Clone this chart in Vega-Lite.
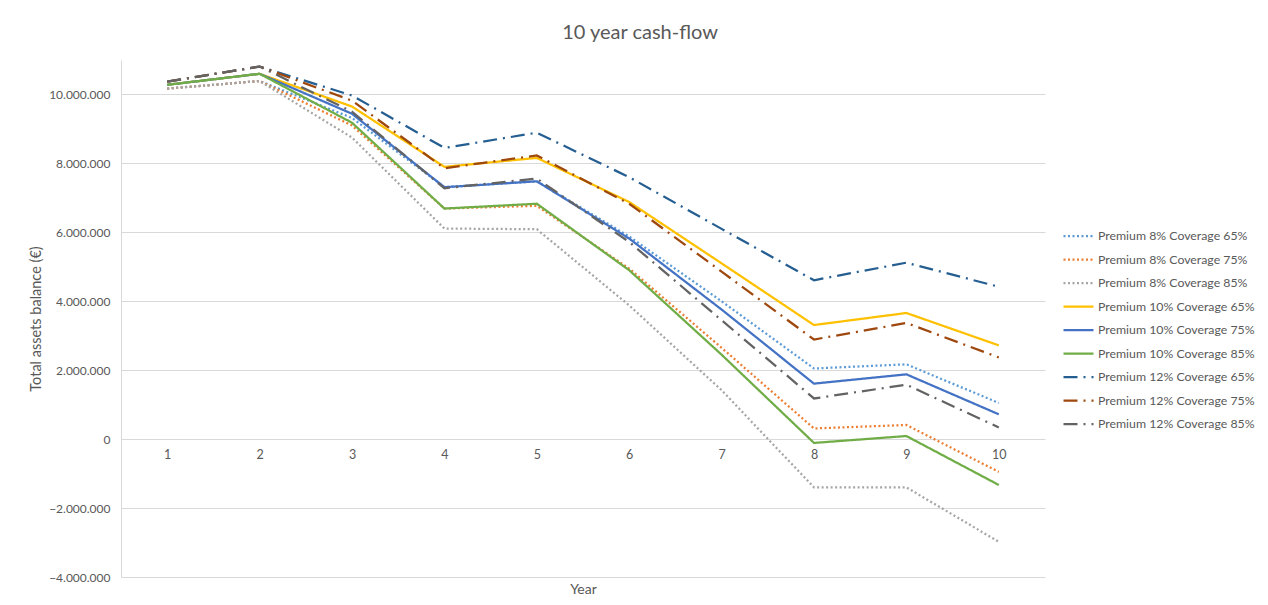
{
  "$schema": "https://vega.github.io/schema/vega-lite/v6.json",
  "width": 924,
  "height": 517,
  "autosize": {"type": "none"},
  "padding": {"left": 121, "top": 60, "right": 223, "bottom": 28},
  "background": "white",
  "config": {
    "font": "Lato",
    "view": {"stroke": null},
    "locale": {"number": {"decimal": ",", "thousands": ".", "grouping": [3], "currency": ["", " €"]}}
  },
  "title": {
    "text": "10 year cash-flow",
    "fontSize": 20,
    "fontWeight": "normal",
    "color": "#595959",
    "anchor": "middle",
    "frame": "group",
    "dx": 57,
    "offset": 17
  },
  "data": {
    "values": [
      {"year": 1, "series": "Premium 8% Coverage 65%", "value": 10170000},
      {"year": 2, "series": "Premium 8% Coverage 65%", "value": 10390000},
      {"year": 3, "series": "Premium 8% Coverage 65%", "value": 9320000},
      {"year": 4, "series": "Premium 8% Coverage 65%", "value": 7310000},
      {"year": 5, "series": "Premium 8% Coverage 65%", "value": 7480000},
      {"year": 6, "series": "Premium 8% Coverage 65%", "value": 5880000},
      {"year": 7, "series": "Premium 8% Coverage 65%", "value": 4000000},
      {"year": 8, "series": "Premium 8% Coverage 65%", "value": 2050000},
      {"year": 9, "series": "Premium 8% Coverage 65%", "value": 2170000},
      {"year": 10, "series": "Premium 8% Coverage 65%", "value": 1050000},

      {"year": 1, "series": "Premium 8% Coverage 75%", "value": 10170000},
      {"year": 2, "series": "Premium 8% Coverage 75%", "value": 10390000},
      {"year": 3, "series": "Premium 8% Coverage 75%", "value": 9100000},
      {"year": 4, "series": "Premium 8% Coverage 75%", "value": 6690000},
      {"year": 5, "series": "Premium 8% Coverage 75%", "value": 6770000},
      {"year": 6, "series": "Premium 8% Coverage 75%", "value": 4950000},
      {"year": 7, "series": "Premium 8% Coverage 75%", "value": 2650000},
      {"year": 8, "series": "Premium 8% Coverage 75%", "value": 310000},
      {"year": 9, "series": "Premium 8% Coverage 75%", "value": 410000},
      {"year": 10, "series": "Premium 8% Coverage 75%", "value": -950000},

      {"year": 1, "series": "Premium 8% Coverage 85%", "value": 10170000},
      {"year": 2, "series": "Premium 8% Coverage 85%", "value": 10390000},
      {"year": 3, "series": "Premium 8% Coverage 85%", "value": 8750000},
      {"year": 4, "series": "Premium 8% Coverage 85%", "value": 6110000},
      {"year": 5, "series": "Premium 8% Coverage 85%", "value": 6090000},
      {"year": 6, "series": "Premium 8% Coverage 85%", "value": 3880000},
      {"year": 7, "series": "Premium 8% Coverage 85%", "value": 1420000},
      {"year": 8, "series": "Premium 8% Coverage 85%", "value": -1400000},
      {"year": 9, "series": "Premium 8% Coverage 85%", "value": -1400000},
      {"year": 10, "series": "Premium 8% Coverage 85%", "value": -2980000},

      {"year": 1, "series": "Premium 10% Coverage 65%", "value": 10280000},
      {"year": 2, "series": "Premium 10% Coverage 65%", "value": 10600000},
      {"year": 3, "series": "Premium 10% Coverage 65%", "value": 9650000},
      {"year": 4, "series": "Premium 10% Coverage 65%", "value": 7900000},
      {"year": 5, "series": "Premium 10% Coverage 65%", "value": 8160000},
      {"year": 6, "series": "Premium 10% Coverage 65%", "value": 6880000},
      {"year": 7, "series": "Premium 10% Coverage 65%", "value": 5100000},
      {"year": 8, "series": "Premium 10% Coverage 65%", "value": 3310000},
      {"year": 9, "series": "Premium 10% Coverage 65%", "value": 3660000},
      {"year": 10, "series": "Premium 10% Coverage 65%", "value": 2720000},

      {"year": 1, "series": "Premium 10% Coverage 75%", "value": 10280000},
      {"year": 2, "series": "Premium 10% Coverage 75%", "value": 10600000},
      {"year": 3, "series": "Premium 10% Coverage 75%", "value": 9440000},
      {"year": 4, "series": "Premium 10% Coverage 75%", "value": 7310000},
      {"year": 5, "series": "Premium 10% Coverage 75%", "value": 7480000},
      {"year": 6, "series": "Premium 10% Coverage 75%", "value": 5820000},
      {"year": 7, "series": "Premium 10% Coverage 75%", "value": 3760000},
      {"year": 8, "series": "Premium 10% Coverage 75%", "value": 1610000},
      {"year": 9, "series": "Premium 10% Coverage 75%", "value": 1880000},
      {"year": 10, "series": "Premium 10% Coverage 75%", "value": 720000},

      {"year": 1, "series": "Premium 10% Coverage 85%", "value": 10280000},
      {"year": 2, "series": "Premium 10% Coverage 85%", "value": 10600000},
      {"year": 3, "series": "Premium 10% Coverage 85%", "value": 9180000},
      {"year": 4, "series": "Premium 10% Coverage 85%", "value": 6690000},
      {"year": 5, "series": "Premium 10% Coverage 85%", "value": 6830000},
      {"year": 6, "series": "Premium 10% Coverage 85%", "value": 4900000},
      {"year": 7, "series": "Premium 10% Coverage 85%", "value": 2450000},
      {"year": 8, "series": "Premium 10% Coverage 85%", "value": -110000},
      {"year": 9, "series": "Premium 10% Coverage 85%", "value": 90000},
      {"year": 10, "series": "Premium 10% Coverage 85%", "value": -1330000},

      {"year": 1, "series": "Premium 12% Coverage 65%", "value": 10370000},
      {"year": 2, "series": "Premium 12% Coverage 65%", "value": 10810000},
      {"year": 3, "series": "Premium 12% Coverage 65%", "value": 9970000},
      {"year": 4, "series": "Premium 12% Coverage 65%", "value": 8450000},
      {"year": 5, "series": "Premium 12% Coverage 65%", "value": 8890000},
      {"year": 6, "series": "Premium 12% Coverage 65%", "value": 7600000},
      {"year": 7, "series": "Premium 12% Coverage 65%", "value": 6100000},
      {"year": 8, "series": "Premium 12% Coverage 65%", "value": 4610000},
      {"year": 9, "series": "Premium 12% Coverage 65%", "value": 5120000},
      {"year": 10, "series": "Premium 12% Coverage 65%", "value": 4420000},

      {"year": 1, "series": "Premium 12% Coverage 75%", "value": 10370000},
      {"year": 2, "series": "Premium 12% Coverage 75%", "value": 10810000},
      {"year": 3, "series": "Premium 12% Coverage 75%", "value": 9820000},
      {"year": 4, "series": "Premium 12% Coverage 75%", "value": 7860000},
      {"year": 5, "series": "Premium 12% Coverage 75%", "value": 8230000},
      {"year": 6, "series": "Premium 12% Coverage 75%", "value": 6830000},
      {"year": 7, "series": "Premium 12% Coverage 75%", "value": 4860000},
      {"year": 8, "series": "Premium 12% Coverage 75%", "value": 2890000},
      {"year": 9, "series": "Premium 12% Coverage 75%", "value": 3370000},
      {"year": 10, "series": "Premium 12% Coverage 75%", "value": 2370000},

      {"year": 1, "series": "Premium 12% Coverage 85%", "value": 10370000},
      {"year": 2, "series": "Premium 12% Coverage 85%", "value": 10810000},
      {"year": 3, "series": "Premium 12% Coverage 85%", "value": 9500000},
      {"year": 4, "series": "Premium 12% Coverage 85%", "value": 7280000},
      {"year": 5, "series": "Premium 12% Coverage 85%", "value": 7560000},
      {"year": 6, "series": "Premium 12% Coverage 85%", "value": 5720000},
      {"year": 7, "series": "Premium 12% Coverage 85%", "value": 3450000},
      {"year": 8, "series": "Premium 12% Coverage 85%", "value": 1180000},
      {"year": 9, "series": "Premium 12% Coverage 85%", "value": 1580000},
      {"year": 10, "series": "Premium 12% Coverage 85%", "value": 340000}
    ]
  },
  "mark": {"type": "line", "strokeWidth": 2.25, "interpolate": "linear"},
  "encoding": {
    "x": {
      "field": "year",
      "type": "ordinal",
      "scale": {"type": "point", "padding": 0.5},
      "axis": {
        "title": "Year",
        "labelAngle": 0,
        "offset": -138,
        "domain": false,
        "ticks": false,
        "grid": false,
        "labelPadding": 9,
        "labelFontSize": 12.5,
        "labelColor": "#595959",
        "titleFontSize": 14,
        "titleFontWeight": "normal",
        "titleColor": "#595959",
        "titleY": 150,
        "titleBaseline": "middle"
      }
    },
    "y": {
      "field": "value",
      "type": "quantitative",
      "scale": {"domain": [-4000000, 11000000], "nice": false, "zero": false},
      "axis": {
        "title": "Total assets balance (€)",
        "values": [-4000000, -2000000, 0, 2000000, 4000000, 6000000, 8000000, 10000000],
        "format": ",d",
        "domain": true,
        "domainColor": "#D9D9D9",
        "ticks": false,
        "grid": true,
        "gridColor": "#D9D9D9",
        "gridWidth": 1,
        "labelPadding": 11,
        "labelFontSize": 12,
        "labelColor": "#595959",
        "titleFontSize": 14.5,
        "titleFontWeight": "normal",
        "titleColor": "#595959",
        "titlePadding": 5
      }
    },
    "color": {
      "field": "series",
      "type": "nominal",
      "scale": {
        "domain": [
          "Premium 8% Coverage 65%", "Premium 8% Coverage 75%", "Premium 8% Coverage 85%",
          "Premium 10% Coverage 65%", "Premium 10% Coverage 75%", "Premium 10% Coverage 85%",
          "Premium 12% Coverage 65%", "Premium 12% Coverage 75%", "Premium 12% Coverage 85%"
        ],
        "range": ["#5B9BD5", "#ED7D31", "#A5A5A5", "#FFC000", "#4472C4", "#70AD47", "#255E91", "#9E480E", "#636363"]
      },
      "legend": {
        "title": null,
        "orient": "none",
        "legendX": 941,
        "legendY": 166,
        "padding": 0,
        "symbolType": "stroke",
        "symbolSize": 900,
        "symbolStrokeWidth": 2.25,
        "clipHeight": 20,
        "rowPadding": 3.5,
        "labelOffset": 3,
        "labelFontSize": 12.3,
        "labelColor": "#595959",
        "labelLimit": 300
      }
    },
    "strokeDash": {
      "field": "series",
      "type": "nominal",
      "scale": {
        "domain": [
          "Premium 8% Coverage 65%", "Premium 8% Coverage 75%", "Premium 8% Coverage 85%",
          "Premium 10% Coverage 65%", "Premium 10% Coverage 75%", "Premium 10% Coverage 85%",
          "Premium 12% Coverage 65%", "Premium 12% Coverage 75%", "Premium 12% Coverage 85%"
        ],
        "range": [[2, 2.5], [2, 2.5], [2, 2.5], [1, 0], [1, 0], [1, 0], [14, 6, 2, 6], [14, 6, 2, 6], [14, 6, 2, 6]]
      },
      "legend": null
    }
  }
}
